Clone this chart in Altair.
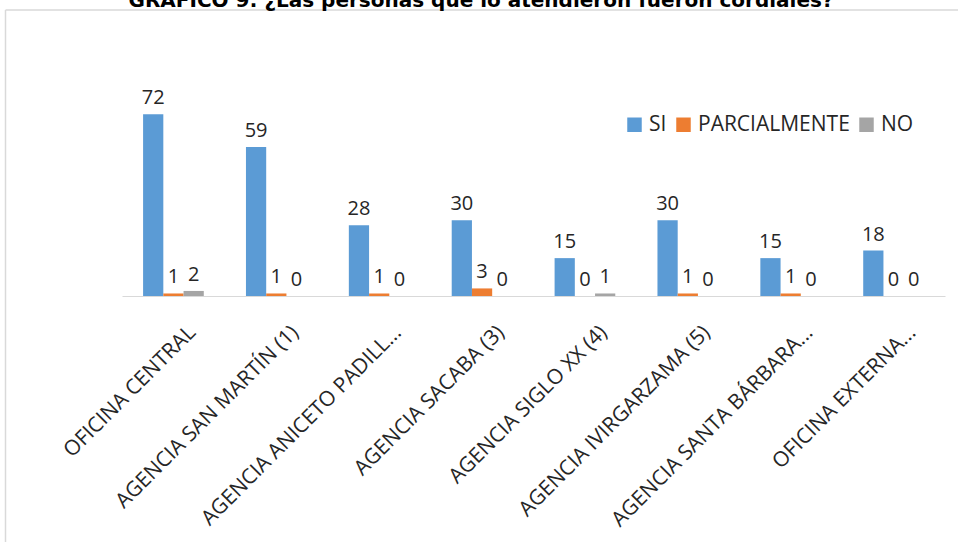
import altair as alt
import pandas as pd

categorias = [
    "OFICINA CENTRAL",
    "AGENCIA SAN MARTÍN (1)",
    "AGENCIA ANICETO PADILL...",
    "AGENCIA SACABA (3)",
    "AGENCIA SIGLO XX (4)",
    "AGENCIA IVIRGARZAMA (5)",
    "AGENCIA SANTA BÁRBARA...",
    "OFICINA EXTERNA...",
]
series = ["SI", "PARCIALMENTE", "NO"]
si = [72, 59, 28, 30, 15, 30, 15, 18]
parcialmente = [1, 1, 1, 3, 0, 1, 1, 0]
no = [2, 0, 0, 0, 1, 0, 0, 0]
colores = ["#5B9BD5", "#ED7D31", "#A5A5A5"]
titulo = "GRÁFICO 9: ¿Las personas que lo atendieron fueron cordiales?"

rows = []
for i, c in enumerate(categorias):
    for s, vals in zip(series, [si, parcialmente, no]):
        rows.append({"categoria": c, "serie": s, "valor": vals[i]})
df = pd.DataFrame(rows)

FONT = "Open Sans"

x_enc = alt.X(
    "categoria:N",
    sort=categorias,
    scale=alt.Scale(paddingInner=0.41, paddingOuter=0.205),
    axis=alt.Axis(
        title=None,
        labelAngle=-45,
        labelAlign="right",
        labelBaseline="middle",
        labelFont=FONT,
        labelFontSize=21,
        labelColor="#262626",
        labelPadding=33,
        labelOffset=19,
        labelLimit=400,
        ticks=False,
        domainColor="#D9D9D9",
        domainWidth=1.2,
        grid=False,
    ),
)
y_enc = alt.Y("valor:Q", scale=alt.Scale(domain=[0, 80]), axis=None)
xoff = alt.XOffset("serie:N", sort=series, scale=alt.Scale(paddingInner=0))

base = alt.Chart(df)

bars = base.mark_bar().encode(
    x=x_enc,
    y=y_enc,
    xOffset=xoff,
    color=alt.Color(
        "serie:N",
        sort=series,
        scale=alt.Scale(domain=series, range=colores),
        legend=alt.Legend(
            title=None,
            orient="none",
            legendX=502,
            legendY=20,
            direction="horizontal",
            symbolType="square",
            symbolSize=210,
            symbolStrokeWidth=0,
            labelFont=FONT,
            labelFontSize=21,
            labelColor="#262626",
            columnPadding=6,
            labelOffset=4,
        ),
    ),
)

labels = base.mark_text(
    baseline="bottom", dy=-6, font=FONT, fontSize=20, color="#262626"
).encode(
    x=alt.X("categoria:N", sort=categorias),
    y=alt.Y("valor:Q"),
    xOffset=xoff,
    text="valor:Q",
)

title_df = pd.DataFrame({"t": [titulo]})
title_mark = alt.Chart(title_df).mark_text(
    font="DejaVu Sans", fontWeight="bold", fontSize=20, baseline="alphabetic",
    align="center", color="#000000"
).encode(x=alt.value(359), y=alt.value(-87), text="t:N")

frame_left = alt.Chart(title_df).mark_rule(color="#D9D9D9", strokeWidth=1.5).encode(
    x=alt.value(-116.5), y=alt.value(-84), y2=alt.value(460)
)
frame_top = alt.Chart(title_df).mark_rule(color="#D9D9D9", strokeWidth=1.5).encode(
    x=alt.value(-116.5), x2=alt.value(850), y=alt.value(-84)
)

chart = alt.layer(frame_left, frame_top, bars, labels, title_mark).properties(
    width=823,
    height=202,
    background="white",
    autosize=alt.AutoSizeParams(type="none"),
    padding={"left": 122, "top": 94, "right": 13, "bottom": 246},
).configure_view(stroke=None)

chart.save("out.html", embed_options={"renderer": "svg", "actions": False})
